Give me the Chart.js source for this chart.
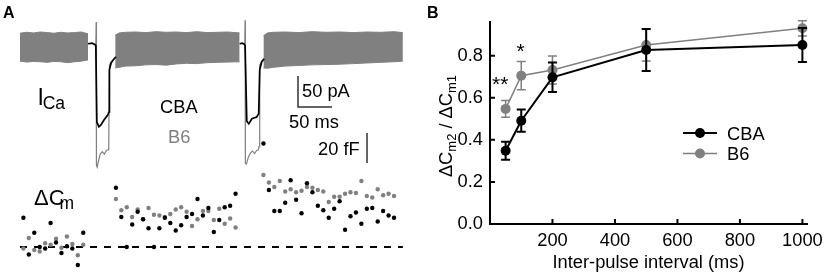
<!DOCTYPE html>
<html>
<head>
<meta charset="utf-8">
<script src="https://cdn.jsdelivr.net/npm/chart.js@4.4.1/dist/chart.umd.min.js"></script>
<style>
    html, body { margin: 0; padding: 0; background: #fff; }
    #wrap { position: relative; width: 829px; height: 272px; overflow: hidden;
            font-family: "Liberation Sans", Arial, sans-serif; color: #000; }
    canvas { position: absolute; top: 0; }
    #panelA { left: 0; width: 420px; height: 272px; }
    #panelB { left: 430px; width: 399px; height: 272px; }
    .lbl { position: absolute; line-height: 1; white-space: nowrap; }
    #ytitle { left: 446px; top: 126px; font-size: 18.3px;
              transform: translate(-50%, -50%) rotate(-90deg); }
    #ytitle .sb { font-size: 13px; position: relative; top: 4px; }
</style>
</head>
<body>
<div id="wrap">
    <canvas id="panelA" width="420" height="272"></canvas>
    <canvas id="panelB" width="399" height="272"></canvas>
    <div class="lbl" id="ytitle">ΔC<span class="sb">m2</span> / ΔC<span class="sb">m1</span></div>
</div>
<script>
/* ── Panel B : ratio ΔCm2/ΔCm1 vs intervalle ─────────────────────── */
const INTERVALS = [50, 100, 200, 500, 1000];
const CBA_MEAN = [0.348, 0.491, 0.697, 0.827, 0.851];
const CBA_SEM = [0.043, 0.053, 0.070, 0.100, 0.081];
const B6_MEAN = [0.547, 0.705, 0.732, 0.851, 0.930];
const B6_SEM = [0.040, 0.067, 0.067, 0.076, 0.036];
const X_TICKS = [200, 400, 600, 800, 1000];
const Y_TICKS = [0, 0.2, 0.4, 0.6, 0.8];

/* ── Panel A : courant ICa (ms, pA) ──────────────────────────────── */
const BAND1_T = [0, 10, 20, 30, 40, 50, 60, 70, 80, 90, 100];
const BAND1_TOP = [23, 24.5, 23.5, 25, 24, 23, 24.5, 23.5, 24, 25, 22];
const BAND1_BOT = [-22, -23.5, -22.5, -23, -24, -22.5, -23, -24.5, -23, -22, -20];
const BAND2_T = [140, 146, 155, 170, 185, 200, 215, 230, 245, 260, 275, 290, 305, 323];
const BAND2_TOP = [20, 23.5, 24.5, 25, 24, 25.5, 24.5, 25, 24, 25.5, 24, 24.5, 25, 23.5];
const BAND2_BOT = [-33, -32, -30, -29.5, -28, -27.5, -28.5, -26.5, -25.5, -26, -24.5, -24, -23.5, -23];
const BAND3_T = [358, 364, 372, 390, 410, 430, 450, 470, 490, 510, 530, 550, 563];
const BAND3_TOP = [19, 23.5, 24.5, 25, 24, 25.5, 24.5, 25, 24, 25, 24.5, 25.5, 24];
const BAND3_BOT = [-33, -33.5, -32, -30, -29, -28, -27.5, -27, -26, -25, -24, -23, -22];

const CBA_T1 = [100, 106, 110, 111.5, 113, 116, 119, 123.5, 129, 131, 131.5, 134, 137, 141];
const CBA_I1 = [6, 7, 5, 3, -120, -128, -125, -117, -109, -104, -36, -25, -20, -15];
const CBA_T2 = [323, 327, 330, 331, 333.5, 336.5, 341, 348, 351, 352.5, 355.5, 359];
const CBA_I2 = [6, 7, 5, 3, -119, -123, -115, -112, -107, -36, -23, -18];
const B6_T1 = [111.5, 112, 112.4, 113.5, 116, 118, 121, 124, 127, 129.5, 130.5, 131.5, 134, 138];
const B6_I1 = [5, 41, -190, -193, -180, -172, -168, -172, -166, -165, -160, -28, -23, -20];
const B6_T2 = [330.5, 331, 331.4, 333, 336, 339, 342, 345, 348, 350.5, 351.5, 352.5, 355, 359];
const B6_I2 = [5, 44, -187, -188, -176, -170, -167, -171, -166, -165, -160, -28, -23, -19];

/* ── Panel A : ΔCm (ms, fF) ──────────────────────────────────────── */
const SEG1_T = [5, 13, 21, 29, 37, 45, 53, 61, 69, 77, 85, 93];
const CBA_C1 = [19.5, -5, 9.5, 0, -1, 16, 3, -4, 0.5, -1, -12, 9.5];
const B6_C1 = [-1, 6, -2, -3, 2.5, 1.5, 5.5, -0.5, 7, 2, -5.5, 1.5];
const SEG2_T = [141, 149, 157, 165, 173, 181, 189, 197, 205, 213, 221, 229, 237, 245, 253, 261, 269, 277, 285, 293, 301, 309, 317];
const CBA_C2 = [39.5, 20, 0, 15, 23.5, 18.5, 12.5, 0, 12.5, 19.5, 16, 11, 14.5, 20, 22, 32, 21, 26, 10, 18, 26.5, 27.5, 35.5];
const B6_C2 = [32, 24.5, 26.5, 20, 25, 18.5, 26, 21.5, 21, 20, 22, 25, 26.5, 23.5, 14, 18.5, 24, 24, 18, 25.5, 15.5, 19, 13];
const SEG3_T = [358, 366, 374, 382, 390, 398, 406, 414, 422, 430, 438, 446, 454, 462, 470, 478, 486, 494, 502, 510, 518, 526, 534, 542, 550];
const CBA_C3 = [69, 38, 24, 24, 29.5, 44.5, 31.5, 22.5, 42.5, 36.5, 27.5, 24.5, 19.5, 25.5, 30.5, 11.5, 20.5, 23, 15.5, 25.5, 26, 17, 24, 21, 19.5];
const B6_C3 = [48, 43, 40, 44, 37, 38.5, 36.5, 37.5, 40, 39.5, 38, 37, 30, 33.5, 33.5, 35.5, 36.5, 36, 44, 34, 33, 38.5, 34.5, 35.5, 34];

/* barres d'échelle (50 pA / 50 ms, 20 fF) et ligne de base */
const SCALEBAR_PA_T = [408.8, 408.8, 458.8];
const SCALEBAR_PA_I = [-46, -96, -96];
const SCALEBAR_FF_T = [510.3, 510.3];
const SCALEBAR_FF_C = [56, 76];
const BASELINE_T = [0, 563];
const BASELINE_C = [0, 0];

/* ── Réglages communs ────────────────────────────────────────────── */
const FONT = '"Liberation Sans", Arial, sans-serif';
const GRAY = '#808080';
Chart.defaults.font.family = FONT;
Chart.defaults.color = '#000';

const xy = (xs, ys) => xs.map((x, i) => ({ x, y: ys[i] }));

const BASE_OPTIONS = {
    responsive: false,
    animation: false,
    devicePixelRatio: 1,
    events: [],
    plugins: { legend: { display: false }, tooltip: { enabled: false } },
};

/* ── Panel A ─────────────────────────────────────────────────────── */
function band(xs, top, bot) {
    return [
        { data: xy(xs, top), yAxisID: 'yI', borderColor: GRAY, borderWidth: 1,
          backgroundColor: GRAY, pointRadius: 0, fill: '+1', order: 6 },
        { data: xy(xs, bot), yAxisID: 'yI', borderColor: GRAY, borderWidth: 1,
          pointRadius: 0, fill: false, order: 6 },
    ];
}

const trace = (xs, ys, color, width, order) => ({
    data: xy(xs, ys), yAxisID: 'yI', borderColor: color, borderWidth: width,
    pointRadius: 0, fill: false, order,
});

const dots = (xs, ys, color, order) => ({
    data: xy(xs, ys), yAxisID: 'yC', showLine: false, pointRadius: 2.2,
    pointBackgroundColor: color, pointBorderWidth: 0, order,
});

new Chart(document.getElementById('panelA'), {
    type: 'line',
    data: {
        datasets: [
            ...band(BAND1_T, BAND1_TOP, BAND1_BOT),
            ...band(BAND2_T, BAND2_TOP, BAND2_BOT),
            ...band(BAND3_T, BAND3_TOP, BAND3_BOT),
            trace(B6_T1, B6_I1, GRAY, 1.2, 5),
            trace(B6_T2, B6_I2, GRAY, 1.2, 5),
            trace(CBA_T1, CBA_I1, '#000', 1.7, 4),
            trace(CBA_T2, CBA_I2, '#000', 1.7, 4),
            trace(SCALEBAR_PA_T, SCALEBAR_PA_I, '#333', 1.5, 3),
            { ...trace(SCALEBAR_FF_T, SCALEBAR_FF_C, '#333', 1.5, 3), yAxisID: 'yC' },
            { ...trace(BASELINE_T, BASELINE_C, '#000', 2, 2), yAxisID: 'yC', borderDash: [7, 7] },
            dots(SEG1_T, B6_C1, GRAY, 1),
            dots(SEG2_T, B6_C2, GRAY, 1),
            dots(SEG3_T, B6_C3, GRAY, 1),
            dots(SEG1_T, CBA_C1, '#000', 0),
            dots(SEG2_T, CBA_C2, '#000', 0),
            dots(SEG3_T, CBA_C3, '#000', 0),
        ],
    },
    options: {
        ...BASE_OPTIONS,
        layout: { padding: 0, autoPadding: false },
        elements: { line: { tension: 0 } },
        scales: {
            x: { type: 'linear', display: false, min: -29.4, max: 588.2 },
            yI: { type: 'linear', display: false, min: -362.1, max: 76.6 },
            yC: { type: 'linear', display: false, min: -16.67, max: 164.67 },
        },
    },
});

/* ── Panel B : plugins ───────────────────────────────────────────── */
const errorBars = {
    id: 'errorBars',
    afterDatasetDraw(chart, args) {
        const ds = chart.data.datasets[args.index];
        const { ctx, scales: { y } } = chart;
        ctx.save();
        ctx.strokeStyle = ds.borderColor;
        ctx.lineWidth = ds.borderWidth;
        args.meta.data.forEach((pt, i) => {
            const mean = ds.data[i].y;
            const top = y.getPixelForValue(mean + ds.sem[i]);
            const bot = y.getPixelForValue(mean - ds.sem[i]);
            ctx.beginPath();
            ctx.moveTo(pt.x, top); ctx.lineTo(pt.x, bot);
            ctx.moveTo(pt.x - 4.5, top); ctx.lineTo(pt.x + 4.5, top);
            ctx.moveTo(pt.x - 4.5, bot); ctx.lineTo(pt.x + 4.5, bot);
            ctx.stroke();
        });
        ctx.restore();
    },
};

const innerTicks = {
    id: 'innerTicks',
    afterDraw(chart) {
        const { ctx, chartArea: a, scales: { x, y } } = chart;
        ctx.save();
        ctx.strokeStyle = '#000';
        ctx.lineWidth = 2;
        ctx.beginPath();
        X_TICKS.forEach(v => {
            const px = x.getPixelForValue(v);
            ctx.moveTo(px, a.bottom); ctx.lineTo(px, a.bottom - 5);
        });
        Y_TICKS.slice(1).forEach(v => {
            const py = y.getPixelForValue(v);
            ctx.moveTo(a.left, py); ctx.lineTo(a.left + 5, py);
        });
        ctx.stroke();
        ctx.restore();
    },
};

const lineLegend = {
    id: 'lineLegend',
    afterDraw(chart) {
        const { ctx } = chart;
        ctx.save();
        ctx.font = `18.3px ${FONT}`;
        ctx.textBaseline = 'alphabetic';
        chart.data.datasets.forEach((ds, i) => {
            const yMid = 133 + i * 20.5;
            ctx.strokeStyle = ds.borderColor;
            ctx.lineWidth = ds.borderWidth;
            ctx.beginPath();
            ctx.moveTo(253, yMid); ctx.lineTo(287, yMid);
            ctx.stroke();
            ctx.fillStyle = ds.borderColor;
            ctx.beginPath();
            ctx.arc(270, yMid, 5, 0, Math.PI * 2);
            ctx.fill();
            ctx.fillStyle = '#000';
            ctx.fillText(ds.label, 297, yMid + 6.5);
        });
        ctx.restore();
    },
};

const TICK_FONT = { size: 18.3, family: FONT };

new Chart(document.getElementById('panelB'), {
    type: 'line',
    data: {
        datasets: [
            { label: 'CBA', data: xy(INTERVALS, CBA_MEAN), sem: CBA_SEM,
              borderColor: '#000', backgroundColor: '#000', borderWidth: 2,
              pointRadius: 5, pointBorderWidth: 0, order: 0, clip: false },
            { label: 'B6', data: xy(INTERVALS, B6_MEAN), sem: B6_SEM,
              borderColor: GRAY, backgroundColor: GRAY, borderWidth: 1.5,
              pointRadius: 5, pointBorderWidth: 0, order: 1, clip: false },
        ],
    },
    options: {
        ...BASE_OPTIONS,
        layout: { padding: { top: 22, right: 18, left: 0, bottom: 0 }, autoPadding: false },
        elements: { line: { tension: 0 } },
        scales: {
            x: {
                type: 'linear', min: 0, max: 1015,
                afterBuildTicks: s => { s.ticks = X_TICKS.map(value => ({ value })); },
                afterFit: s => { s.height = 48; },
                grid: { display: false, drawTicks: false },
                border: { display: true, color: '#000', width: 2 },
                ticks: { font: TICK_FONT, padding: 6, maxRotation: 0, autoSkip: false,
                         callback: v => String(v) },
                title: { display: true, text: 'Inter-pulse interval (ms)',
                         font: { ...TICK_FONT, lineHeight: 1 }, padding: 0 },
            },
            y: {
                type: 'linear', min: 0, max: 0.96,
                afterBuildTicks: s => { s.ticks = Y_TICKS.map(value => ({ value })); },
                afterFit: s => { s.width = 60; },
                grid: { display: false, drawTicks: false },
                border: { display: true, color: '#000', width: 2 },
                ticks: { font: TICK_FONT, padding: 7, callback: v => v.toFixed(1) },
            },
        },
    },
    plugins: [errorBars, innerTicks, lineLegend],
});

/* ── Textes du panel A et astérisques ────────────────────────────── */
const LABELS = [
    { text: 'A', x: 3, base: 19, size: 16, bold: true },
    { text: 'B', x: 427, base: 18.5, size: 16, bold: true },
    { text: 'I', x: 37.5, base: 105, size: 23 },
    { text: 'Ca', x: 42.7, base: 109.5, size: 17.5 },
    { text: 'CBA', x: 160, base: 113, size: 18.3 },
    { text: 'B6', x: 168, base: 143, size: 18.3, color: GRAY },
    { text: '50 pA', x: 302, base: 97, size: 18.3 },
    { text: '50 ms', x: 289, base: 128, size: 18.3 },
    { text: '20 fF', x: 318, base: 155, size: 18.3 },
    { text: 'ΔC', x: 34, base: 205.7, size: 22 },
    { text: 'm', x: 59.5, base: 210, size: 17.5 },
    { text: '**', x: 492, base: 91, size: 21 },
    { text: '*', x: 516.5, base: 57.7, size: 21 },
];

const wrap = document.getElementById('wrap');
LABELS.forEach(({ text, x, base, size, bold, color }) => {
    const d = document.createElement('div');
    d.className = 'lbl';
    d.textContent = text;
    d.style.left = x + 'px';
    d.style.top = (base - 0.8465 * size) + 'px';
    d.style.fontSize = size + 'px';
    if (bold) d.style.fontWeight = 'bold';
    if (color) d.style.color = color;
    wrap.appendChild(d);
});
</script>
</body>
</html>
